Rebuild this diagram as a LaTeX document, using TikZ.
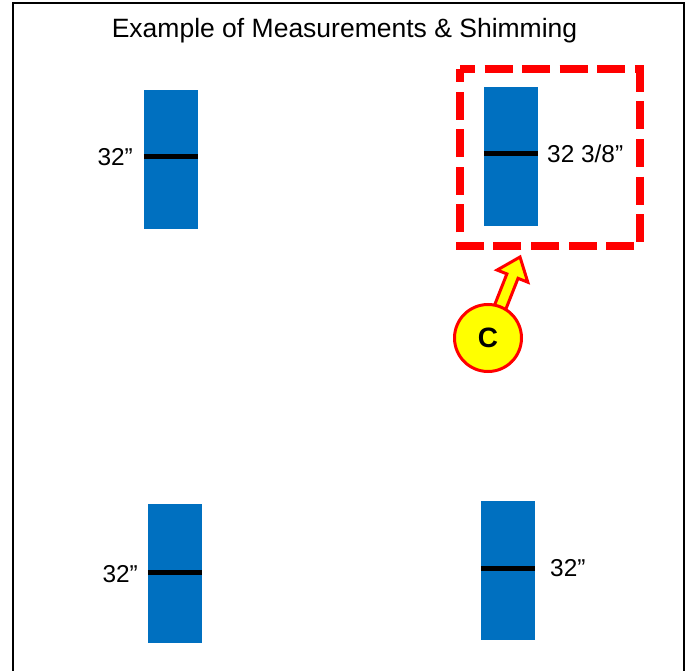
\documentclass[tikz,border=0pt]{standalone}
\usepackage{fontspec}
\setmainfont{Liberation Sans}
\usetikzlibrary{calc}
\definecolor{blueblock}{RGB}{0,112,192}
\definecolor{callred}{RGB}{255,0,0}
\definecolor{callyellow}{RGB}{255,255,0}
\begin{document}
\begin{tikzpicture}[x=1pt,y=-1pt,
  block/.style={fill=blueblock, draw=none, inner sep=0pt, minimum width=54pt, minimum height=139pt, rectangle},
  measure/.style={inner sep=0pt, font=\fontsize{24.4}{28}\selectfont},
  bar/.style={line width=5pt, black},
]
\useasboundingbox (0,0) rectangle (688,671);
\fill[white] (0,0) rectangle (688,671);
% frame
\draw[line width=2.5pt] (13,675) -- (13,3) -- (684,3) -- (684,675);
% title
\node[anchor=base, inner sep=0pt, font=\fontsize{26.5}{30}\selectfont] (title) at (344.5,38) {Example of Measurements \& Shimming};
% blocks
\node[block] (tl) at (171,159.5) {};
\node[block] (tr) at (511,156.5) {};
\node[block] (bl) at (175,573.5) {};
\node[block] (br) at (508,570.5) {};
\draw[bar] (tl.west |- 0,157) -- (tl.east |- 0,157);
\draw[bar] (tr.west |- 0,154) -- (tr.east |- 0,154);
\draw[bar] (bl.west |- 0,572) -- (bl.east |- 0,572);
\draw[bar] (br.west |- 0,568) -- (br.east |- 0,568);
% labels
\node[measure, anchor=east] (ltl) at (133,157) {32”};
\node[measure, anchor=west] (ltr) at (547,154) {32 3/8”};
\node[measure, anchor=east] (lbl) at (138,574) {32”};
\node[measure, anchor=west] (lbr) at (550,568) {32”};
% dashed highlight
\draw[callred, line width=8.5pt, line join=miter, dash pattern=on 28pt off 9.58pt, dash phase=13pt]
  (460,69) -- (640,69) -- (640,246) -- (460,246) -- cycle;
% callout arrow
\coordinate (tip) at (520,257);
\coordinate (base) at (488,338);
\coordinate (hb) at ($(base)!0.764!(tip)$);
\draw[callred, line width=3pt, fill=callyellow, line join=miter]
  ($(base)!6pt!90:(tip)$) -- ($(hb)!6pt!90:(tip)$) -- ($(hb)!16.5pt!90:(tip)$) -- (tip)
  -- ($(hb)!16.5pt!-90:(tip)$) -- ($(hb)!6pt!-90:(tip)$) -- ($(base)!6pt!-90:(tip)$) -- cycle;
\node[circle, draw=callred, line width=3pt, fill=callyellow, minimum size=67pt, inner sep=0pt,
  font=\bfseries\fontsize{28}{32}\selectfont] (c) at (base) {C};
\end{tikzpicture}
\end{document}
